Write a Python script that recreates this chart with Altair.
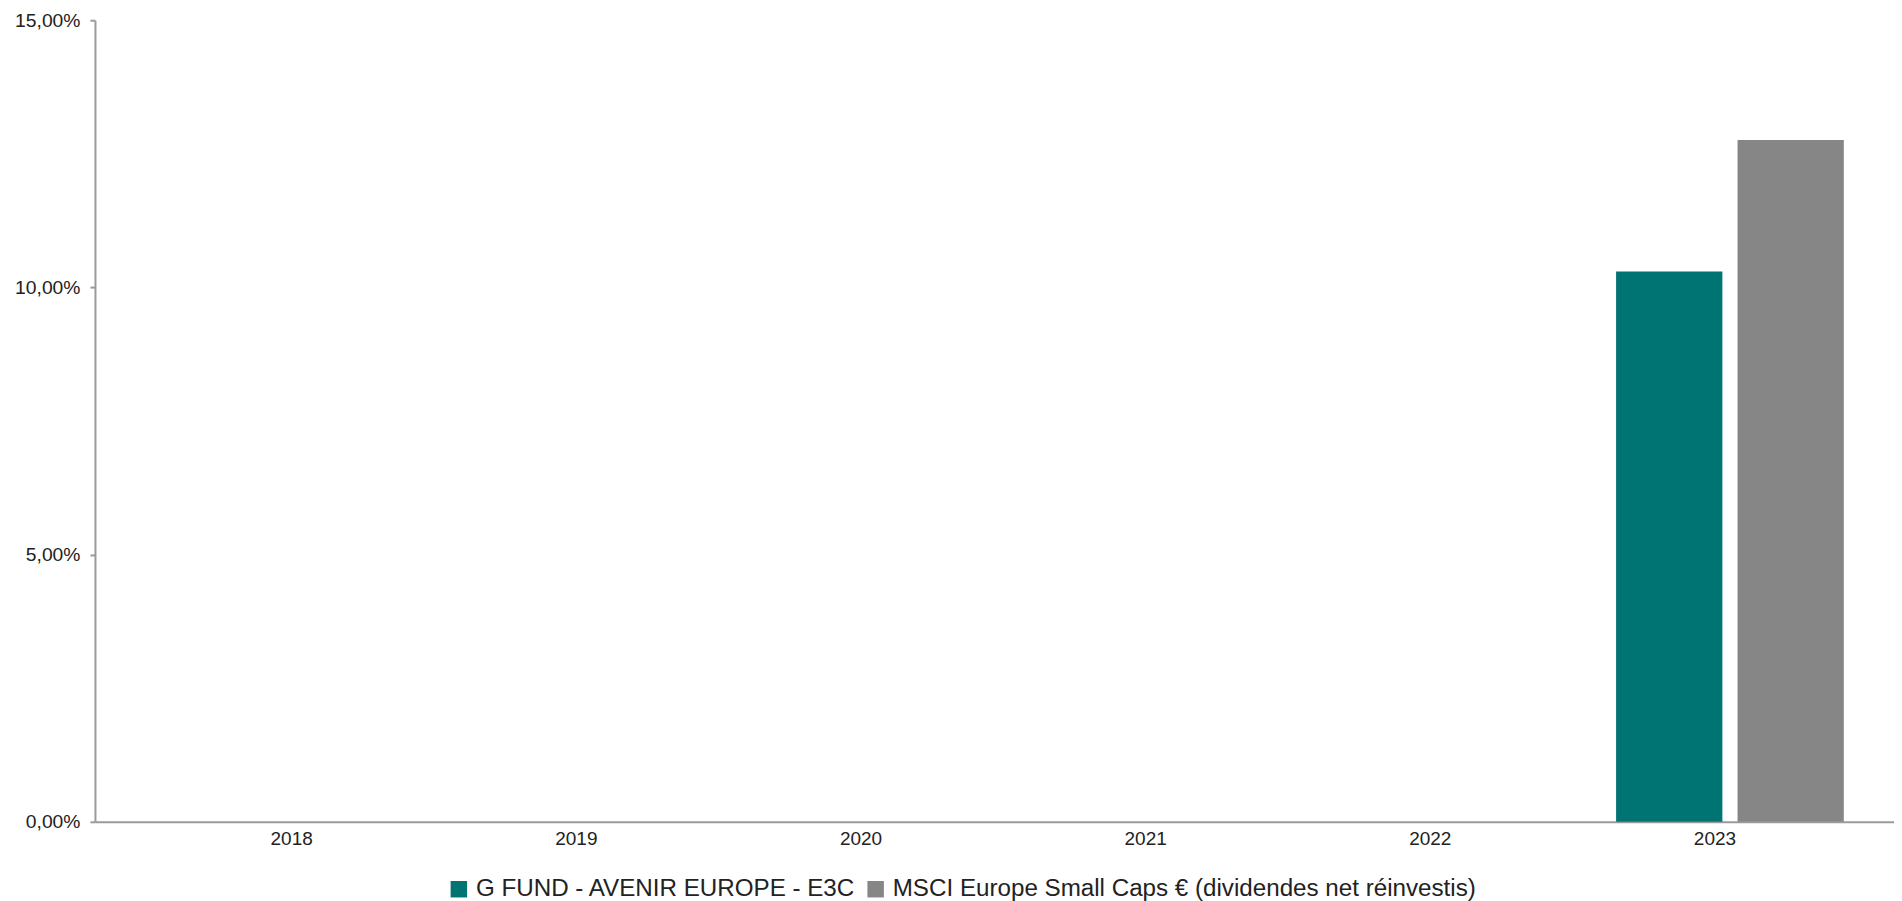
import altair as alt
import pandas as pd

years = ["2018", "2019", "2020", "2021", "2022", "2023"]
series = ["G FUND - AVENIR EUROPE - E3C",
          "MSCI Europe Small Caps € (dividendes net réinvestis)"]
fund_values = [None, None, None, None, None, 10.30]
index_values = [None, None, None, None, None, 12.76]
colors = ["#007473", "#868686"]
y_ticks = [0, 5, 10, 15]

rows = []
for yr, f, i in zip(years, fund_values, index_values):
    if f is not None:
        rows.append({"year": yr, "series": series[0], "value": f})
    if i is not None:
        rows.append({"year": yr, "series": series[1], "value": i})
df = pd.DataFrame(rows)

FONT = "Liberation Sans"
AXIS_COLOR = "#9a9a9a"
TEXT_COLOR = "#222222"

chart = alt.Chart(df).mark_bar().encode(
    x=alt.X(
        "year:N",
        scale=alt.Scale(domain=years, paddingInner=0.2, paddingOuter=0.26, align=0.661),
        axis=alt.Axis(title=None, labelAngle=0, ticks=False, labelPadding=8, labelOffset=-15,
                      labelFontSize=19, labelColor=TEXT_COLOR, labelFont=FONT,
                      domainColor=AXIS_COLOR, domainWidth=2),
    ),
    xOffset=alt.XOffset("series:N", scale=alt.Scale(domain=series, paddingInner=0.125)),
    y=alt.Y(
        "value:Q",
        scale=alt.Scale(domain=[0, 15], nice=False),
        axis=alt.Axis(title=None, values=y_ticks, grid=False,
                      labelExpr="replace(format(datum.value, '.2f'), '.', ',') + '%'",
                      tickSize=5, tickColor=AXIS_COLOR, tickWidth=2, labelPadding=10,
                      labelFontSize=19.3, labelColor=TEXT_COLOR, labelFont=FONT,
                      domainColor=AXIS_COLOR, domainWidth=2),
    ),
    color=alt.Color(
        "series:N",
        scale=alt.Scale(domain=series, range=colors),
        legend=alt.Legend(title=None, orient="none", legendX=352, legendY=857,
                          direction="horizontal", symbolType="square", symbolSize=272,
                          labelFontSize=24.2, labelFont=FONT, labelColor=TEXT_COLOR,
                          labelOffset=5, columnPadding=7, labelLimit=2000, padding=0,
                          symbolStrokeWidth=0),
    ),
).properties(
    width=1800,
    height=802,
    autosize=alt.AutoSizeParams(type="none"),
    padding={"left": 87, "top": 12, "right": 0, "bottom": 79},
).configure(
    background="white",
    font=FONT,
).configure_view(stroke=None)

chart.save("out.html", embed_options={"renderer": "svg", "actions": False})
